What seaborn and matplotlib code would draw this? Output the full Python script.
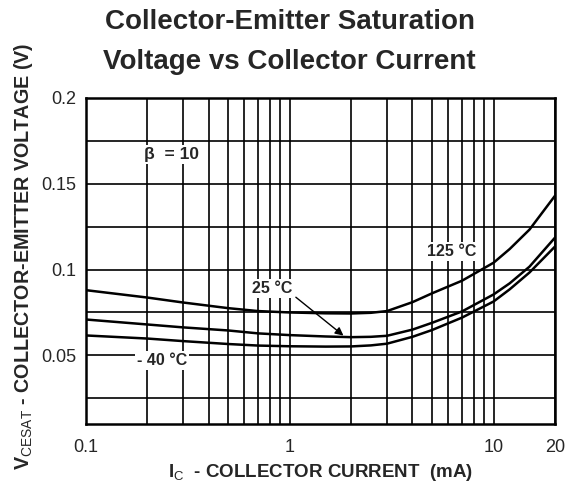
import pandas as pd
import numpy as np
import matplotlib.pyplot as plt
import seaborn as sns

sns.set_style("white")
plt.rcParams['font.family'] = ['Liberation Sans', 'DejaVu Sans']
plt.rcParams['mathtext.fontset'] = 'custom'
plt.rcParams['mathtext.rm'] = 'Liberation Sans'
plt.rcParams['mathtext.it'] = 'Liberation Sans'

# Data
ic_ma = [0.1, 0.2, 0.3, 0.5, 0.7, 1, 1.5, 2, 2.5, 3, 4, 5, 7, 10, 12, 15, 20]
vce_125 = [0.088, 0.0837, 0.0808, 0.0775, 0.0758, 0.075, 0.0745, 0.0744, 0.0748, 0.0758, 0.081, 0.0862,
           0.0935, 0.104, 0.112, 0.1233, 0.143]
vce_25 = [0.0709, 0.068, 0.0663, 0.0645, 0.0628, 0.0618, 0.061, 0.0606, 0.0608, 0.0614, 0.065, 0.069,
          0.0756, 0.0855, 0.092, 0.1017, 0.1186]
vce_m40 = [0.0616, 0.0598, 0.0583, 0.0566, 0.0557, 0.0553, 0.0551, 0.0552, 0.0558, 0.0568, 0.0608, 0.0648,
           0.072, 0.0814, 0.0885, 0.0983, 0.1134]
temps = ['125 °C', '25 °C', '- 40 °C']

df = pd.DataFrame({
    'ic': ic_ma * 3,
    'vce': vce_125 + vce_25 + vce_m40,
    'temp': [t for t in temps for _ in ic_ma],
})

fig = plt.figure(figsize=(5.76, 4.87), dpi=100)
ax = fig.add_axes([0.149, 0.1294, 0.8145, 0.6694])

sns.lineplot(data=df, x='ic', y='vce', hue='temp', palette=['black'] * 3,
             legend=False, linewidth=1.8, ax=ax, zorder=3)

ax.set_xscale('log')
ax.set_xticks([0.1, 1, 10, 20])
ax.set_xticklabels(['0.1', '1', '10', '20'])
ax.set_xticks([m * d for d in [0.1, 1] for m in range(2, 10)], minor=True)
ax.set_xticklabels([], minor=True)
ax.set_yticks([0.05, 0.1, 0.15, 0.2])
ax.set_yticklabels(['0.05', '0.1', '0.15', '0.2'])
ax.set_yticks(np.arange(0.025, 0.2, 0.025), minor=True)
ax.tick_params(which='both', length=0, labelsize=13)
ax.tick_params(axis='x', pad=11)
ax.tick_params(axis='y', pad=7)
ax.set_xlim(0.1, 20)
ax.set_ylim(0.01, 0.2)

ax.grid(True, which='both', color='black', linewidth=1.2)
for s in ax.spines.values():
    s.set_color('black')
    s.set_linewidth(1.8)

ax.set_xlabel('I$_C$  - COLLECTOR CURRENT  (mA)', fontsize=13.5, fontweight='bold', labelpad=4)
ax.set_ylabel('V$_{CESAT}$ - COLLECTOR-EMITTER VOLTAGE (V)', fontsize=14.2, fontweight='bold')
ax.yaxis.set_label_coords(-0.108, 0.515)

box = dict(facecolor='white', edgecolor='none', pad=1.5)
ax.text(0.263, 0.1669, 'β  = 10', fontsize=12.5, fontweight='bold', ha='center', va='center', bbox=box, zorder=5)
ax.text(0.236, 0.0471, '- 40 °C', fontsize=11.5, fontweight='bold', ha='center', va='center', bbox=box, zorder=5)
ax.text(6.22, 0.1105, '125 °C', fontsize=11.5, fontweight='bold', ha='center', va='center', bbox=box, zorder=5)
ax.text(0.816, 0.089, '25 °C', fontsize=11.5, fontweight='bold', ha='center', va='center', bbox=box, zorder=5)
ax.annotate('', xy=(1.88, 0.0605), xytext=(1.046, 0.0849),
            arrowprops=dict(arrowstyle='-|>', color='black', lw=1.0, mutation_scale=12), zorder=5)

fig.text(0.503, 0.955, 'Collector-Emitter Saturation', fontsize=20, fontweight='bold', ha='center', va='center')
fig.text(0.503, 0.872, 'Voltage vs Collector Current', fontsize=20, fontweight='bold', ha='center', va='center')

fig.savefig('out.png', dpi=100)
